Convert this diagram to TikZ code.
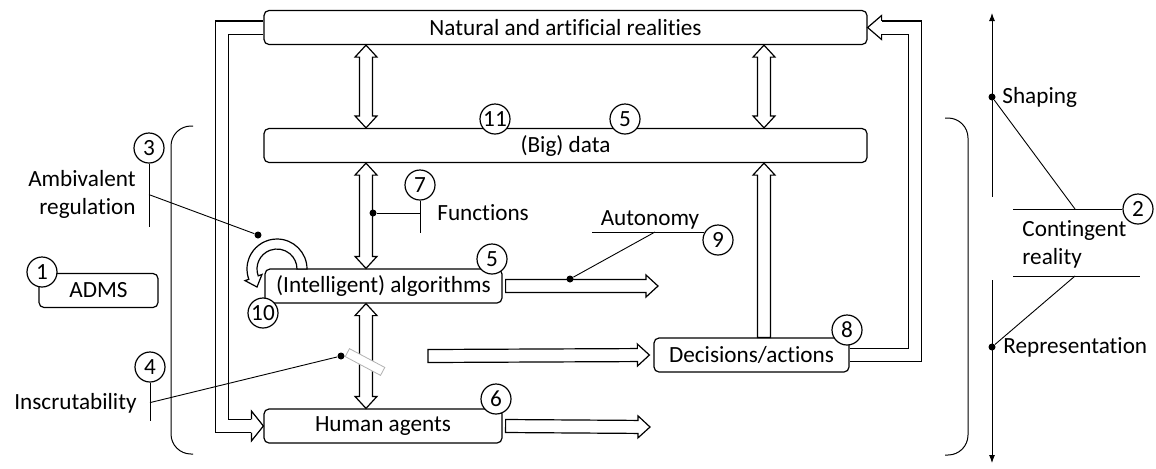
\documentclass[tikz,border=0pt]{standalone}
\usepackage{fontspec}
\setmainfont{Carlito}[Ligatures=NoCommon]
\usetikzlibrary{calc, arrows.meta}
\tikzset{
	box/.style={draw, line width=0.6pt, rounded corners=2.5pt, fill=white, minimum height=17pt, inner sep=0pt},
	num/.style={draw, line width=0.6pt, circle, fill=white, minimum size=15pt, inner sep=0pt},
	txt/.style={inner sep=2pt},
	dot/.style={circle, fill, inner sep=0pt, minimum size=3.5pt},
	lead/.style={line width=0.45pt},
	bracket/.style={line width=0.5pt, rounded corners=10pt},
	fat/.style={draw, fill=white, line width=0.6pt},
	onaxis/.style={shift={(\p1)}, rotate=\n1},
	fatarrow/.style={fat, to path={let \p1=(\tikztostart), \p2=(\tikztotarget), \n1={atan2(\y2-\y1,\x2-\x1)}, \n2={veclen(\x2-\x1,\y2-\y1)} in
		([onaxis]0pt,3.25pt) -- ([onaxis]{\n2-6pt},3.25pt) -- ([onaxis]{\n2-6pt},5.5pt) -- (\p2)
		-- ([onaxis]{\n2-6pt},-5.5pt) -- ([onaxis]{\n2-6pt},-3.25pt) -- ([onaxis]0pt,-3.25pt) -- cycle}},
	dfatarrow/.style={fat, to path={let \p1=(\tikztostart), \p2=(\tikztotarget), \n1={atan2(\y2-\y1,\x2-\x1)}, \n2={veclen(\x2-\x1,\y2-\y1)} in
		(\p1) -- ([onaxis]6pt,5.5pt) -- ([onaxis]6pt,3.25pt) -- ([onaxis]{\n2-6pt},3.25pt) -- ([onaxis]{\n2-6pt},5.5pt) -- (\p2)
		-- ([onaxis]{\n2-6pt},-5.5pt) -- ([onaxis]{\n2-6pt},-3.25pt) -- ([onaxis]6pt,-3.25pt) -- ([onaxis]6pt,-5.5pt) -- cycle}},
	bigshaft/.style={double, double distance=6pt, line width=0.6pt, line join=miter},
}

\begin{document}
\begin{tikzpicture}[x=0.5pt, y=-0.5pt, font=\fontsize{11.6}{14}\selectfont]
		\useasboundingbox (0,0) rectangle (1156,468);

		\draw[bracket] (193,126) -| (171,290) |- (193,454);
		\draw[bracket] (945,118) -| (968,290) |- (945,455);

		\node[box, minimum width=301.5pt] (nat) at (565.5,27.5) {Natural and artificial realities};
		\node[box, minimum width=301.5pt] (data) at (565.5,145.5) {(Big) data};
		\node[box, minimum width=118.5pt] (alg) at (383.5,286) {(Intelligent) algorithms};
		\node[box, minimum width=119pt] (hum) at (383,426) {Human agents};
		\node[box, minimum width=97.5pt] (dec) at (751.5,355) {Decisions/actions};
		\node[box, minimum width=59.5pt] (adms) at (98.5,290.5) {ADMS};

		\coordinate (lcol) at (366,0);
		\coordinate (rcol) at (764,0);
		\coordinate (lx) at (222,0);
		\coordinate (rx) at (915,0);
		\coordinate (auttip) at (658,286);
		\coordinate (humtip) at (650,427);
		\coordinate (dectail) at (428,356);
		\coordinate (loopc) at (277,269);

		\draw[dfatarrow] (nat.south -| lcol) to (data.north -| lcol);
		\draw[dfatarrow] (nat.south -| rcol) to (data.north -| rcol);
		\draw[dfatarrow] (data.south -| lcol) to (alg.north -| lcol);
		\draw[dfatarrow] (alg.south -| lcol) to (hum.north -| lcol);
		\draw[fatarrow] ([xshift=1.5pt]alg.east) to (auttip);
		\draw[fatarrow] ([xshift=1.5pt]hum.east) to (humtip);
		\draw[fatarrow] (dectail) to ([xshift=-2pt]dec.west);
		\draw[fatarrow] (dec.north -| rcol) to (data.south -| rcol);

		\draw[bigshaft] (nat.west) -| (lx |- hum.west) -- ([xshift=-6pt]hum.west);
		\draw[fat] ([xshift=-6pt,yshift=3.3pt]hum.west) -- ([xshift=-6pt,yshift=7.5pt]hum.west) -- (hum.west)
			-- ([xshift=-6pt,yshift=-7.5pt]hum.west) -- ([xshift=-6pt,yshift=-3.3pt]hum.west);
		\draw[bigshaft] (dec.east) -| (rx |- nat.east) -- ([xshift=7pt]nat.east);
		\draw[fat] ([xshift=7pt,yshift=3.3pt]nat.east) -- ([xshift=7pt,yshift=6pt]nat.east) -- (nat.east)
			-- ([xshift=7pt,yshift=-6pt]nat.east) -- ([xshift=7pt,yshift=-3.3pt]nat.east);

		\draw[fat] ([shift={(0:15pt)}]loopc) arc[start angle=0, end angle=200, radius=15pt]
			-- ([shift={(200:17pt)}]loopc) -- ([shift={(-10pt,-9pt)}]loopc) -- ([shift={(200:8pt)}]loopc)
			-- ([shift={(200:10pt)}]loopc) arc[start angle=200, end angle=0, radius=10pt] -- cycle;

		\node[draw=gray!60, line width=0.4pt, fill=white, minimum width=20pt, minimum height=4.5pt, inner sep=0pt, rotate=-28] (brk) at (365,362) {};

		\node[num] (n1) at (42,272) {1};
		\node[num] (n2) at (1138,209) {2};
		\node[num] (n3) at (149,148) {3};
		\node[num] (n4) at (150,367) {4};
		\node[num] (n5a) at (625,119) {5};
		\node[num] (n5b) at (492,259) {5};
		\node[num] (n6) at (496,399) {6};
		\node[num] (n7) at (420,185) {7};
		\node[num] (n8) at (847,330) {8};
		\node[num] (n9) at (718,240) {9};
		\node[num] (n10) at (263,313) {10};
		\node[num] (n11) at (495,119) {11};

		\node[txt, anchor=east, align=right] (ambtxt) at (140,194) {Ambivalent\\regulation};
		\node[txt, anchor=east] (instxt) at (141,403) {Inscrutability};
		\node[txt, anchor=west] (funtxt) at (433,213) {Functions};
		\node[txt, anchor=base] (auttxt) at (650,225) {Autonomy};
		\node[txt, anchor=west] (shatxt) at (998,97) {Shaping};
		\node[txt, anchor=west, align=left] (contxt) at (1018,244) {Contingent\\reality};
		\node[txt, anchor=west] (reptxt) at (999,347) {Representation};

		\node[dot] (d3) at (258,235) {};
		\node[dot] (d4) at (341,356) {};
		\node[dot] (d7) at (373,213) {};
		\node[dot] (d9) at (570,279) {};
		\node[dot] (dsh) at (992,97) {};
		\node[dot] (drep) at (992,347) {};

		\draw[lead] (n3.south) -- ++(0,63);
		\draw[lead] (n3.south) ++(0,31) -- (d3);
		\draw[lead] (n4.south) -- ++(0,38);
		\draw[lead] (n4.south) ++(0,20) -- (d4);
		\draw[lead] (n7.south) -- ++(0,32);
		\draw[lead] (d7) -- (d7 -| n7.south);
		\draw[lead] (n9.150) -- ++(-112,0);
		\draw[lead] (d9) -- (655,232);

		\coordinate (ax1) at (992,13);
		\coordinate (ax2) at (992,197);
		\coordinate (ax3) at (992,280);
		\coordinate (ax4) at (992,463);
		\draw[lead, {Latex[length=4pt,width=3pt]}-] (ax1) -- (ax2);
		\draw[lead, -{Latex[length=4pt,width=3pt]}] (ax3) -- (ax4);
		\draw[lead] (1013,209) -- (n2.west);
		\draw[lead] (1013,276) -- (1140,276);
		\draw[lead] (dsh) -- (1075,209);
		\draw[lead] (1075,276) -- (drep);
	\end{tikzpicture}
\end{document}
